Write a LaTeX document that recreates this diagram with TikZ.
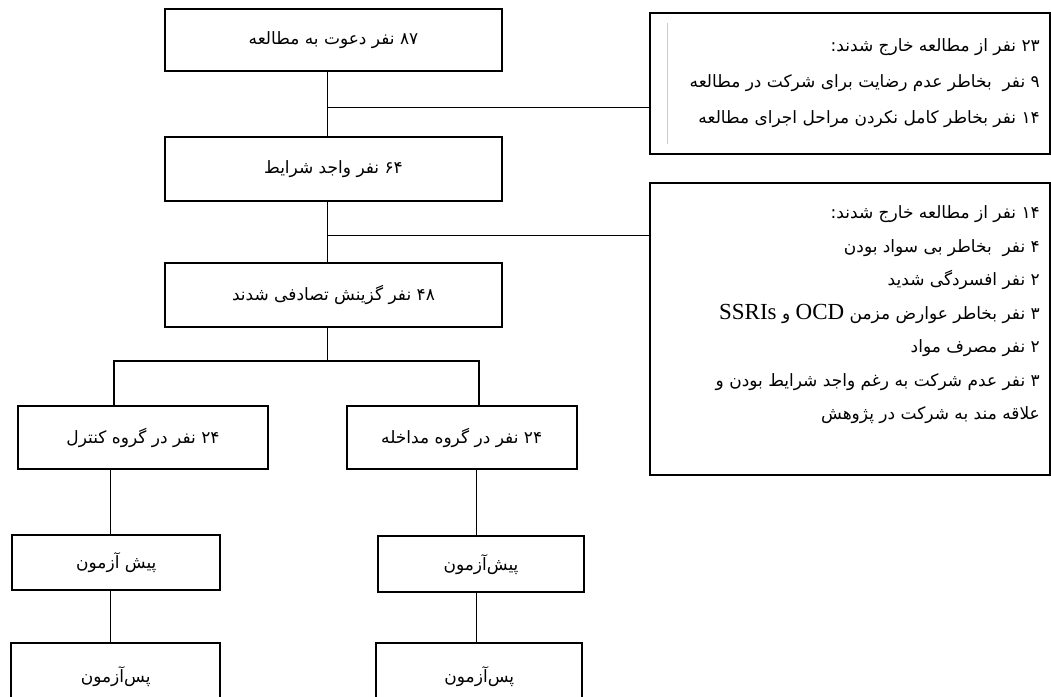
\documentclass[tikz,border=0pt]{standalone}
\usepackage{fontspec}
\newfontfamily\fa[Script=Arabic]{DejaVu Sans}
\newfontfamily\lat{Liberation Serif}
\TeXXeTstate=1
\begin{document}
\begin{tikzpicture}[x=1pt,y=-1pt,
  box/.style={draw, line width=1.8pt, inner sep=0pt, font=\fa\fontsize{17}{20}\selectfont},
  exbox/.style={draw, line width=1.8pt, inner sep=0pt, minimum width=400pt},
  extext/.style={inner sep=0pt, anchor=north east, align=right},
  latw/.style={},
  conn/.style={line width=1.2pt}]
\useasboundingbox (0,0) rectangle (1051,696);
% main column
\node[box, minimum width=337pt, minimum height=61.4pt] (b1) at (333.5,40) {\beginR ۸۷ نفر دعوت به مطالعه\endR};
\node[box, minimum width=337pt, minimum height=64.6pt] (b2) at (333.5,169) {\beginR ۶۴ نفر واجد شرایط\endR};
\node[box, minimum width=337pt, minimum height=64pt] (b3) at (333.5,295.3) {\beginR ۴۸ نفر گزینش تصادفی شدند\endR};
% groups
\node[box, minimum width=250pt, minimum height=62.4pt] (ctrl) at (143,437.5) {\beginR ۲۴ نفر در گروه کنترل\endR};
\node[box, minimum width=230pt, minimum height=62.4pt] (intv) at (461.7,437.5) {\beginR ۲۴ نفر در گروه مداخله\endR};
% tests
\node[box, minimum width=208pt, minimum height=55.6pt] (preL) at (116.3,562.5) {\beginR پیش آزمون\endR};
\node[box, minimum width=206.6pt, minimum height=55.7pt] (preR) at (481,564.2) {\beginR پیش‌آزمون\endR};
\node[box, minimum width=209.3pt, minimum height=65.7pt] (postL) at (115.7,676.2) {\beginR پس‌آزمون\endR};
\node[box, minimum width=206pt, minimum height=65.7pt] (postR) at (479.3,676.2) {\beginR پس‌آزمون\endR};
% exclusion boxes
\node[exbox, minimum height=141pt] (ex1) at (850,83.8) {};
\node[exbox, minimum height=291.7pt] (ex2) at (850,329.2) {};
\draw[line width=0.6pt, black!20] (667,23) -- (667,144);
\node[extext, font=\fa\fontsize{17}{36}\selectfont] (t1) at (1040,38) {%
\beginR ۲۳ نفر از مطالعه خارج شدند\hbox{:}\endR\\
\beginR ۹ نفر\ \ بخاطر عدم رضایت برای شرکت در مطالعه\endR\\
\beginR ۱۴ نفر بخاطر کامل نکردن مراحل اجرای مطالعه\endR};
\node[extext, font=\fa\fontsize{17}{33.5}\selectfont] (t2) at (1040,205.5) {%
\beginR ۱۴ نفر از مطالعه خارج شدند\hbox{:}\endR\\
\beginR ۴ نفر\ \ بخاطر بی سواد بودن\endR\\
\beginR ۲ نفر افسردگی شدید\endR\\
\beginR ۳ نفر بخاطر عوارض مزمن {\lat\fontsize{23}{24}\selectfont OCD} و {\lat\fontsize{23}{24}\selectfont SSRIs}\endR\\
\beginR ۲ نفر مصرف مواد\endR\\
\beginR ۳ نفر عدم شرکت به رغم واجد شرایط بودن و\endR\\
\beginR علاقه مند به شرکت در پژوهش\endR};
% connectors
\coordinate (trunk) at (327.7,0);
\coordinate (cx) at (110.3,0);
\coordinate (ix) at (476.7,0);
\draw[conn] (b1.south -| trunk) -- (b2.north -| trunk);
\draw[conn] (b2.south -| trunk) -- (b3.north -| trunk);
\draw[conn] (trunk |- 0,107.3) -- (ex1.west |- 0,107.3);
\draw[conn] (trunk |- 0,235.3) -- (ex2.west |- 0,235.3);
\coordinate (split) at (327.7,361);
\draw[conn] (b3.south -| trunk) -- (split);
\draw[conn] (ctrl.north -| 114,0) |- (split) -| (intv.north -| 479,0);
\draw[conn] (ctrl.south -| cx) -- (preL.north -| cx);
\draw[conn] (preL.south -| cx) -- (postL.north -| cx);
\draw[conn] (intv.south -| ix) -- (preR.north -| ix);
\draw[conn] (preR.south -| ix) -- (postR.north -| ix);
\end{tikzpicture}
\end{document}
